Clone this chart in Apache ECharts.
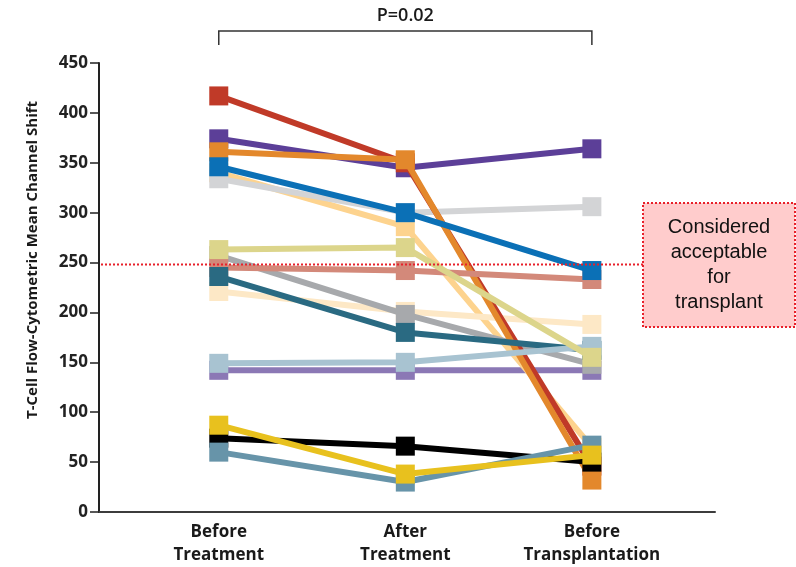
<!DOCTYPE html>
<html>
<head>
<meta charset="utf-8">
<script src="https://cdn.jsdelivr.net/npm/echarts@6/dist/echarts.min.js"></script>
<style>
  html, body { margin: 0; padding: 0; background: #fff; }
  #chart { width: 796px; height: 567px; }
</style>
</head>
<body>
<div id="chart"></div>
<script>
// Time points on the x axis
const categories = ['Before\nTreatment', 'After\nTreatment', 'Before\nTransplantation'];

// Mean channel shift per patient at each time point
const redSeries       = [417, 350, 46];
const purpleSeries    = [374, 345, 364];
const orangeSeries    = [361, 353, 32];
const blueSeries      = [346, 300, 242];
const lightGraySeries = [334, 300, 306];
const peachSeries     = [340, 286, 65];
const creamSeries     = [221, 201, 188];
const khakiSeries     = [263, 265, 155];
const salmonSeries    = [245, 242, 233];
const graySeries      = [257, 198, 148];
const tealSeries      = [236, 180, 162];
const paleBlueSeries  = [149, 150, 166];
const lavenderSeries  = [142, 142, 142];
const yellowSeries    = [87, 38, 57];
const blackSeries     = [74, 66, 50];
const steelSeries     = [60, 30, 67];

// Y axis ticks
const yTicks = [0, 50, 100, 150, 200, 250, 300, 350, 400, 450];

// Transplant acceptability threshold and significance label
const threshold = 248;
const pLabel = 'P=0.02';
const noteText = 'Considered\nacceptable\nfor\ntransplant';

// Drawing order: first entry at the bottom, last on top
const patients = [
  { values: lavenderSeries,  color: '#8b78b5' },
  { values: peachSeries,     color: '#fdd38e' },
  { values: creamSeries,     color: '#fde8c6' },
  { values: graySeries,      color: '#a7a9ac' },
  { values: lightGraySeries, color: '#d3d4d6' },
  { values: purpleSeries,    color: '#5c3f98' },
  { values: redSeries,       color: '#c03a28' },
  { values: orangeSeries,    color: '#e3882c' },
  { values: blackSeries,     color: '#000000' },
  { values: salmonSeries,    color: '#d3897a' },
  { values: tealSeries,      color: '#2a6a82' },
  { values: paleBlueSeries,  color: '#a8c3d1' },
  { values: khakiSeries,     color: '#dcd58b' },
  { values: steelSeries,     color: '#6794a9' },
  { values: yellowSeries,    color: '#e8c11e' },
  { values: blueSeries,      color: '#0b70b6' }
];

const X_MIN = -0.642;
const X_MAX = 2.66;
const FONT = '"Open Sans", "DejaVu Sans", sans-serif';

const chart = echarts.init(document.getElementById('chart'), null, { renderer: 'canvas' });

const series = patients.map((p, i) => ({
  type: 'line',
  data: p.values.map((v, k) => [k, v]),
  symbol: 'rect',
  symbolSize: 19,
  z: 10 + i,
  silent: true,
  animation: false,
  lineStyle: { color: p.color, width: 6 },
  itemStyle: { color: p.color, borderWidth: 0 },
  emphasis: { disabled: true }
}));

chart.setOption({
  animation: false,
  backgroundColor: '#ffffff',
  grid: { left: 99, right: 81, top: 63, bottom: 54, containLabel: false },
  xAxis: {
    type: 'value',
    min: X_MIN,
    max: X_MAX,
    splitLine: { show: false },
    axisLine: { show: true, onZero: false, lineStyle: { color: '#3c3c3c', width: 2 } },
    axisTick: { show: false },
    axisLabel: {
      customValues: categories.map((c, i) => i),
      formatter: v => categories[Math.round(v)] || '',
      margin: 9,
      color: '#1a1a1a',
      fontFamily: FONT,
      fontWeight: 'bold',
      fontSize: 17,
      lineHeight: 23,
      align: 'center'
    }
  },
  yAxis: {
    type: 'value',
    min: yTicks[0],
    max: yTicks[yTicks.length - 1],
    interval: yTicks[1] - yTicks[0],
    splitLine: { show: false },
    axisLine: { show: true, onZero: false, lineStyle: { color: '#222', width: 2 } },
    axisTick: { show: true, length: 9, lineStyle: { color: '#222', width: 1.5 } },
    axisLabel: {
      margin: 11,
      color: '#222',
      fontFamily: FONT,
      fontWeight: 'bold',
      fontSize: 17
    }
  },
  series: series
});

// Annotations placed from data coordinates
const toPx = (x, y) => chart.convertToPixel({ gridIndex: 0 }, [x, y]);
const boxLeft = 643, boxTop = 203, boxW = 152, boxH = 124;
const thrStart = toPx(X_MIN, threshold);
const bracketL = toPx(0, 0)[0];
const bracketR = toPx(2, 0)[0];
const bracketY = 31;

chart.setOption({
  graphic: [
    {
      type: 'line',
      z: 100,
      silent: true,
      shape: { x1: thrStart[0] + 2, y1: thrStart[1], x2: boxLeft, y2: thrStart[1] },
      style: { stroke: '#e8202a', lineWidth: 2, lineDash: [2, 2] }
    },
    {
      type: 'rect',
      z: 100,
      silent: true,
      shape: { x: boxLeft, y: boxTop, width: boxW, height: boxH },
      style: { fill: '#ffcccc', stroke: '#e8202a', lineWidth: 2, lineDash: [2, 2] }
    },
    {
      type: 'text',
      z: 101,
      silent: true,
      x: boxLeft + boxW / 2,
      y: boxTop + boxH / 2,
      style: {
        text: noteText,
        align: 'center',
        verticalAlign: 'middle',
        fontFamily: '"Liberation Sans", Arial, sans-serif',
        fontSize: 20,
        lineHeight: 25,
        fill: '#111'
      }
    },
    {
      type: 'polyline',
      z: 100,
      silent: true,
      shape: { points: [[bracketL, 45], [bracketL, bracketY], [bracketR, bracketY], [bracketR, 45]] },
      style: { stroke: '#333', lineWidth: 1.5, fill: null }
    },
    {
      type: 'text',
      z: 100,
      silent: true,
      x: (bracketL + bracketR) / 2,
      y: 16,
      style: {
        text: pLabel,
        align: 'center',
        verticalAlign: 'middle',
        fontFamily: FONT,
        fontWeight: 600,
        fontSize: 18,
        fill: '#1a1a1a'
      }
    },
    {
      type: 'text',
      z: 100,
      silent: true,
      x: 33,
      y: 260,
      rotation: Math.PI / 2,
      style: {
        text: 'T-Cell Flow-Cytometric Mean Channel Shift',
        align: 'center',
        verticalAlign: 'middle',
        fontFamily: FONT,
        fontWeight: 'bold',
        fontSize: 15,
        fill: '#1a1a1a'
      }
    }
  ]
});
</script>
</body>
</html>
